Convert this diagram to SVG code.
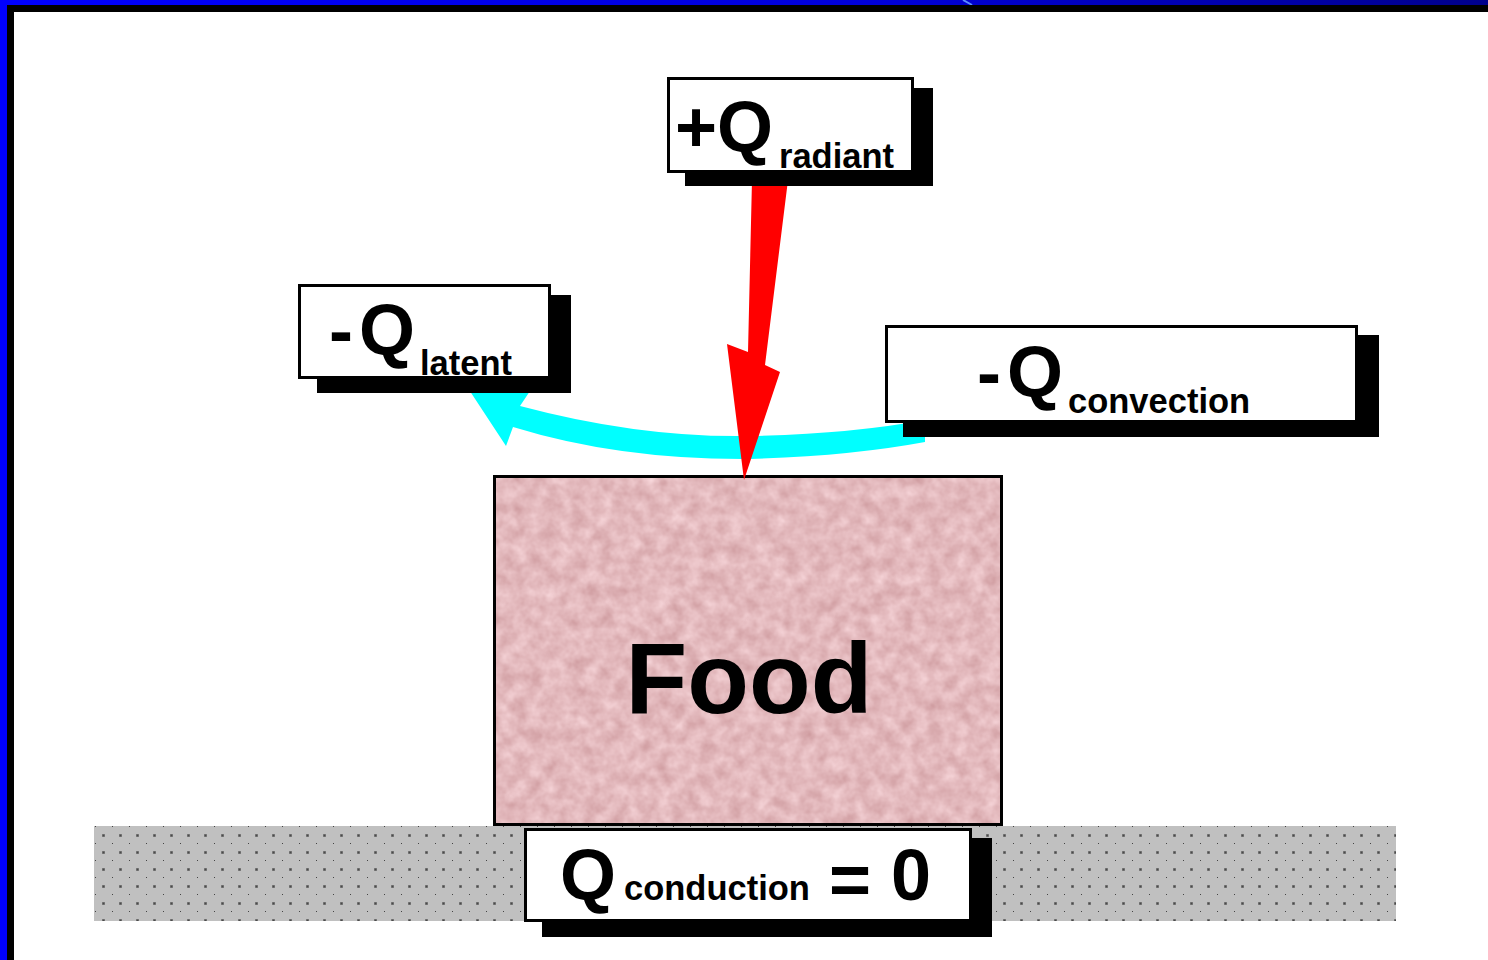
<svg xmlns="http://www.w3.org/2000/svg" width="1488" height="960" viewBox="0 0 1488 960">
  <defs>
    <linearGradient id="topbar" x1="0" y1="0" x2="1" y2="0">
      <stop offset="0" stop-color="#0000ff"/>
      <stop offset="0.6" stop-color="#0000d8"/>
      <stop offset="1" stop-color="#00008c"/>
    </linearGradient>
    <pattern id="dots" x="94" y="826" width="17" height="17" patternUnits="userSpaceOnUse">
      <rect width="17" height="17" fill="#c0c0c0"/>
      <rect x="8" y="8" width="3" height="3" fill="#8a8a8a"/>
      <rect x="8.5" y="8.5" width="2" height="2" fill="#4a4a4a"/>
      <rect x="1" y="0" width="1" height="1" fill="#444"/>
    </pattern>
    <filter id="meat" x="0" y="0" width="1" height="1" color-interpolation-filters="sRGB">
      <feTurbulence type="fractalNoise" baseFrequency="0.07" numOctaves="3" seed="7" result="n"/>
      <feColorMatrix in="n" type="matrix" values="0.18 0 0 0 0.8  0.26 0 0 0 0.595  0.26 0 0 0 0.61  0 0 0 0 1" result="c"/>
      <feComposite in="c" in2="SourceGraphic" operator="in"/>
    </filter>
    <style>
      .box { fill: #ffffff; stroke: #000000; stroke-width: 3; }
      .shadow { fill: #000000; }
      .big { font-family: "Liberation Sans", Arial, sans-serif; font-weight: bold; font-size: 72px; fill: #000; }
      .sub { font-family: "Liberation Sans", Arial, sans-serif; font-weight: bold; font-size: 34.5px; fill: #000; }
      .food { font-family: "Liberation Sans", Arial, sans-serif; font-weight: bold; font-size: 101px; fill: #000; }
    </style>
  </defs>

  <!-- background and frame -->
  <rect x="0" y="0" width="1488" height="960" fill="#ffffff"/>
  <rect x="0" y="0" width="1488" height="5" fill="url(#topbar)"/>
  <line x1="963" y1="0" x2="972" y2="5" stroke="#5a8cff" stroke-width="2"/>
  <rect x="0" y="0" width="7" height="960" fill="#0000ff"/>
  <rect x="7" y="5" width="1481" height="7" fill="#000000"/>
  <rect x="7" y="5" width="7" height="955" fill="#000000"/>

  <!-- ground -->
  <g id="ground">
    <rect x="94" y="826" width="1302" height="95" fill="url(#dots)"/>
  </g>

  <!-- food -->
  <g id="food">
    <rect x="494.5" y="476.5" width="507" height="348" fill="#e4b8bc" filter="url(#meat)"/>
    <rect x="494.5" y="476.5" width="507" height="348" fill="none" stroke="#000" stroke-width="3"/>
    <text class="food" x="749" y="713" text-anchor="middle">Food</text>
  </g>

  <!-- connectors -->
  <g id="connectors">
    <path d="M 460,376 L 540,376 L 520,406 Q 640,438 750,436 Q 850,434 925,420 L 925,442 Q 850,456 750,459 Q 620,460 513,427 L 506,446 Z" fill="#00ffff"/>
    <polygon points="752,180 788,180 765,365 780,372 744,480 727,344 748,352" fill="#ff0000"/>
  </g>

  <!-- radiant -->
  <g id="radiant">
    <rect class="shadow" x="685" y="88" width="248" height="98"/>
    <rect class="box" x="668.5" y="78.5" width="244" height="93"/>
    <text class="big" x="675" y="152">+Q</text>
    <text class="sub" x="779" y="168">radiant</text>
  </g>

  <!-- latent -->
  <g id="latent">
    <rect class="shadow" x="317" y="295" width="254" height="98"/>
    <rect class="box" x="299.5" y="285.5" width="250" height="92"/>
    <text class="big" x="329" y="355">-</text>
    <text class="big" x="359" y="355">Q</text>
    <text class="sub" x="420" y="375">latent</text>
  </g>

  <!-- convection -->
  <g id="convection">
    <rect class="shadow" x="903" y="335" width="476" height="102"/>
    <rect class="box" x="886.5" y="326.5" width="470" height="95"/>
    <text class="big" x="977" y="397">-</text>
    <text class="big" x="1007" y="397">Q</text>
    <text class="sub" x="1068" y="413">convection</text>
  </g>

  <!-- conduction -->
  <g id="conduction">
    <rect class="shadow" x="542" y="838" width="450" height="99"/>
    <rect class="box" x="525.5" y="829.5" width="445" height="91"/>
    <text class="big" x="560" y="900">Q</text>
    <text class="sub" x="624" y="900">conduction</text>
    <text class="big" x="829" y="904">=</text>
    <text class="big" x="891" y="900">0</text>
  </g>
</svg>
